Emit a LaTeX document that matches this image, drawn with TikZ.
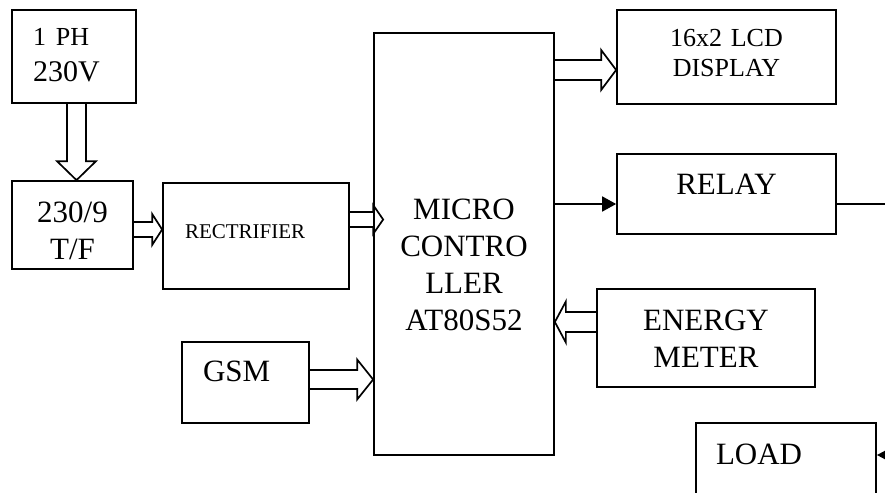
\documentclass[tikz,border=0pt]{standalone}
\usepackage{fontspec}
\setmainfont{Liberation Serif}
\usetikzlibrary{calc,arrows.meta}
% hollow block arrow: start, tip, half shaft, half head, head length
\newcommand{\fatarrow}[5]{%
  \draw[line join=miter]
    ($(#1)!#3!90:(#2)$)
    -- ($($(#2)!#5!(#1)$)!#3!90:(#2)$)
    -- ($($(#2)!#5!(#1)$)!#4!90:(#2)$)
    -- (#2)
    -- ($($(#2)!#5!(#1)$)!#4!-90:(#2)$)
    -- ($($(#2)!#5!(#1)$)!#3!-90:(#2)$)
    -- ($(#1)!#3!-90:(#2)$);}
\tikzset{
  blk/.style={draw, inner sep=0pt, text height=0pt, align=center},
  bigtxt/.style={font=\fontsize{31}{37}\selectfont}
}
\begin{document}
\begin{tikzpicture}[x=1pt, y=-1pt, line width=1.7pt]
  \useasboundingbox (0,0) rectangle (885,492);
  \clip (0,0) rectangle (885,492);
  % blocks
  \node[blk, align=left, minimum width=124pt, minimum height=93pt, text width=82pt,
    text depth=21pt, font=\fontsize{30}{36}\selectfont] (ph) at (74,56.5)
    {{\fontsize{26}{36}\selectfont 1 PH}\\230V};
  \node[blk, minimum width=121pt, minimum height=88pt, text width=100pt,
    text depth=6pt, bigtxt] (tf) at (72.5,225) {230/9\\T/F};
  \node[blk, align=left, minimum width=186pt, minimum height=106pt, text width=142pt,
    text height=4pt, text depth=0pt, font=\fontsize{21}{25}\selectfont] (rect) at (256,236) {RECTRIFIER};
  \node[blk, minimum width=180pt, minimum height=422pt, text width=160pt,
    text depth=49.4pt, bigtxt] (mc) at (464,244) {MICRO\\CONTRO\\LLER\\AT80S52};
  \node[blk, minimum width=219pt, minimum height=94pt, text width=200pt,
    text depth=20pt, font=\fontsize{26}{30}\selectfont] (lcd) at (726.5,57) {16x2 LCD\\DISPLAY};
  \node[blk, minimum width=219pt, minimum height=80pt, text width=200pt,
    text depth=0pt, bigtxt] (relay) at (726.5,194) {RELAY};
  \node[blk, minimum width=218pt, minimum height=98pt, text width=200pt,
    text depth=16pt, bigtxt] (em) at (706,338) {ENERGY\\METER};
  \node[blk, align=left, minimum width=127pt, minimum height=81pt, text width=85pt,
    text depth=1.6pt, bigtxt] (gsm) at (245.5,382.5) {GSM};
  \node[blk, align=left, minimum width=180pt, minimum height=100pt, text width=140pt,
    text depth=18pt, bigtxt] (load) at (786,473) {LOAD};
  % arrow ends
  \coordinate (pb) at ([xshift=2.5pt]ph.south);
  \coordinate (tr) at ([yshift=-4.5pt]tf.east);
  \coordinate (rs) at ([yshift=16.5pt]rect.east);
  \coordinate (mt) at ($(mc.west |- rs)+(10,0)$);
  \coordinate (gs) at ([yshift=3pt]gsm.east);
  \coordinate (ml) at ([yshift=174pt]mc.east);
  \coordinate (es) at ([yshift=16pt]em.west);
  \coordinate (rl) at ([yshift=-10pt]relay.west);
  \coordinate (rr) at ([yshift=-10pt]relay.east);
  \coordinate (ld) at ([yshift=18pt]load.east);
  % block arrows
  \fatarrow{pb}{pb |- tf.north}{9.5pt}{19.5pt}{19pt}
  \fatarrow{tr}{rect.west |- tr}{7.5pt}{15.5pt}{10pt}
  \fatarrow{rs}{mt}{7.5pt}{14.5pt}{10pt}
  \fatarrow{gs}{mc.west |- gs}{9.5pt}{20pt}{16pt}
  \fatarrow{ml}{lcd.west |- ml}{10pt}{20pt}{15pt}
  \fatarrow{es}{mc.east |- es}{10pt}{20.5pt}{11pt}
  % line arrows
  \draw[-{Triangle[length=14pt,width=15pt]}] (mc.east |- rl) -- (rl);
  \draw[-{Triangle[length=9pt,width=9pt]}] (rr) -- ++(52,0) |- (ld);
\end{tikzpicture}
\end{document}
